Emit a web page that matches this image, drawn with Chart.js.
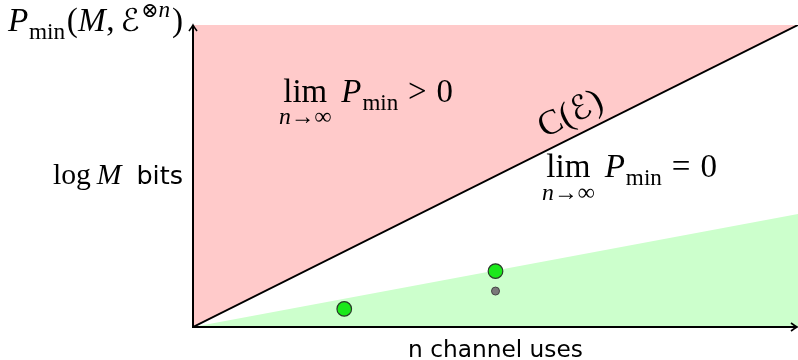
<!DOCTYPE html>
<html>
<head>
<meta charset="utf-8">
<script src="https://cdn.jsdelivr.net/npm/chart.js@4.4.0/dist/chart.umd.min.js"></script>
<style>
html,body{margin:0;padding:0;background:#fff;}
#c{display:block;}
</style>
</head>
<body>
<canvas id="c" width="798" height="360"></canvas>
<script>
// ---- data ----
const capacityX = [0, 10];
const capacityY = [0, 10];
const achievableX = [0, 10];
const achievableY = [0, 3.74];
const codeX = [2.5, 5.0];
const codeY = [0.6, 1.85];
const grayX = [5.0];
const grayY = [1.19];
const xLabel = 'n channel uses';
const bitsLabel = 'bits';

const pts = (xs, ys) => xs.map((x, i) => ({x, y: ys[i]}));

const SERIF = '"Liberation Serif", "DejaVu Serif", serif';
const SANS = '"DejaVu Sans", "Liberation Sans", sans-serif';
const CAL = '"DejaVu Sans", "Noto Sans", sans-serif';

// parts: {t, st, f, k (size factor), dy (factor of s), g (gap before, factor of s), under}
function partWidth(ctx, p, s) {
  ctx.font = (p.st || '') + ' ' + (s * (p.k || 1)) + 'px ' + (p.f || SERIF);
  let w = ctx.measureText(p.t).width;
  if (p.under) {
    ctx.font = 'italic ' + (s * p.uk) + 'px ' + SERIF;
    w = Math.max(w, ctx.measureText(p.under).width);
  }
  return w;
}
function groupWidth(ctx, parts, s) {
  let w = 0;
  parts.forEach(p => { w += (p.g || 0) * s + partWidth(ctx, p, s); });
  return w;
}
function drawGroup(ctx, parts, x0, x1, y) {
  const s0 = 20;
  const s = s0 * (x1 - x0) / groupWidth(ctx, parts, s0);
  let x = x0;
  ctx.textAlign = 'left';
  ctx.textBaseline = 'alphabetic';
  parts.forEach(p => {
    x += (p.g || 0) * s;
    const w = partWidth(ctx, p, s);
    ctx.font = (p.st || '') + ' ' + (s * (p.k || 1)) + 'px ' + (p.f || SERIF);
    const tw = ctx.measureText(p.t).width;
    ctx.fillText(p.t, x + (w - tw) / 2, y + (p.dy || 0) * s);
    if (p.under) {
      ctx.font = 'italic ' + (s * p.uk) + 'px ' + SERIF;
      const uw = ctx.measureText(p.under).width;
      ctx.fillText(p.under, x + (w - uw) / 2, y + p.ud * s);
    }
    x += w;
  });
  return s;
}

const topLabel = [
  {t: 'P', st: 'italic'},
  {t: 'min', k: 0.7, dy: 0.25, g: 0.02},
  {t: '(', g: 0.05},
  {t: 'M', st: 'italic'},
  {t: ',', g: 0.02},
  {t: 'ℰ', f: CAL, k: 0.95, g: 0.18},
  {t: '⊗', k: 0.62, dy: -0.42, g: 0.05},
  {t: 'n', st: 'italic', k: 0.7, dy: -0.42},
  {t: ')', g: 0.05}
];
const logLabel = [
  {t: 'log'},
  {t: 'M', st: 'italic', g: 0.2},
  {t: bitsLabel, f: SANS, k: 0.86, g: 0.5}
];
function limLabel(rel) {
  return [
    {t: 'lim', under: 'n→∞', uk: 0.72, ud: 0.68},
    {t: 'P', st: 'italic', g: 0.3},
    {t: 'min', k: 0.7, dy: 0.25, g: 0.03},
    {t: rel, g: 0.3},
    {t: '0', g: 0.3}
  ];
}

function arrowHead(ctx, x, y, dir) {
  ctx.beginPath();
  if (dir === 'up') {
    ctx.moveTo(x - 4, y + 6);
    ctx.quadraticCurveTo(x - 1, y + 2, x, y);
    ctx.quadraticCurveTo(x + 1, y + 2, x + 4, y + 6);
  } else {
    ctx.moveTo(x - 6, y - 4);
    ctx.quadraticCurveTo(x - 2, y - 1, x, y);
    ctx.quadraticCurveTo(x - 2, y + 1, x - 6, y + 4);
  }
  ctx.stroke();
}

const decor = {
  id: 'decor',
  afterDatasetsDraw(chart) {
    const ctx = chart.ctx;
    const xs = chart.scales.x, ys = chart.scales.y;
    const x0 = xs.getPixelForValue(0), y0 = ys.getPixelForValue(0);
    const ca = chart.chartArea;
    ctx.save();
    ctx.strokeStyle = '#000';
    ctx.fillStyle = '#000';
    ctx.lineWidth = 2;
    ctx.beginPath();
    ctx.moveTo(x0, y0 + 1);
    ctx.lineTo(x0, ca.top + 1);
    ctx.moveTo(x0 - 1, y0);
    ctx.lineTo(ca.right - 2, y0);
    ctx.stroke();
    ctx.lineWidth = 1.6;
    arrowHead(ctx, x0, ca.top, 'up');
    arrowHead(ctx, ca.right - 1, y0, 'right');

    drawGroup(ctx, topLabel, 8, 183, 31);
    drawGroup(ctx, logLabel, 53, 183, 184);
    drawGroup(ctx, [{t: xLabel, f: SANS}], 408, 583, 357);
    drawGroup(ctx, limLabel('>'), 279, 453, 102);
    drawGroup(ctx, limLabel('='), 542, 717, 177);

    // C(E) rotated along line
    const px1 = xs.getPixelForValue(capacityX[1]), py1 = ys.getPixelForValue(capacityY[1]);
    const ang = Math.atan2(py1 - y0, px1 - x0);
    const ax = xs.getPixelForValue(5.9), ay = ys.getPixelForValue(5.9);
    ctx.translate(ax + 12 * Math.sin(ang), ay - 12 * Math.cos(ang));
    ctx.rotate(ang);
    drawGroup(ctx, [{t: 'C'}, {t: '('}, {t: 'ℰ', f: CAL, k: 0.95}, {t: ')', g: 0.03}], 0, 68, 0);
    ctx.restore();
  }
};

new Chart(document.getElementById('c'), {
  type: 'scatter',
  data: {
    datasets: [
      {
        data: pts(codeX, codeY),
        backgroundColor: '#1be81b',
        borderColor: '#2a3a2a',
        borderWidth: 1.2,
        pointRadius: 7.3,
        showLine: false
      },
      {
        data: pts(grayX, grayY),
        backgroundColor: '#7a7a7a',
        borderColor: '#444',
        borderWidth: 1,
        pointRadius: 4,
        showLine: false
      },
      {
        data: pts(capacityX, capacityY),
        showLine: true,
        borderColor: '#000',
        borderWidth: 2,
        pointRadius: 0,
        backgroundColor: '#ffcaca',
        fill: 'end'
      },
      {
        data: pts(achievableX, achievableY),
        showLine: true,
        borderWidth: 0,
        borderColor: 'rgba(0,0,0,0)',
        pointRadius: 0,
        backgroundColor: '#ccffcc',
        fill: 'origin'
      }
    ]
  },
  options: {
    responsive: false,
    animation: false,
    devicePixelRatio: 1,
    layout: {autoPadding: false, padding: {left: 193, right: 0, top: 25, bottom: 33}},
    scales: {
      x: {type: 'linear', min: 0, max: 10, display: false},
      y: {type: 'linear', min: 0, max: 10, display: false}
    },
    plugins: {legend: {display: false}, tooltip: {enabled: false}},
    elements: {line: {tension: 0}}
  },
  plugins: [decor]
});
</script>
</body>
</html>
